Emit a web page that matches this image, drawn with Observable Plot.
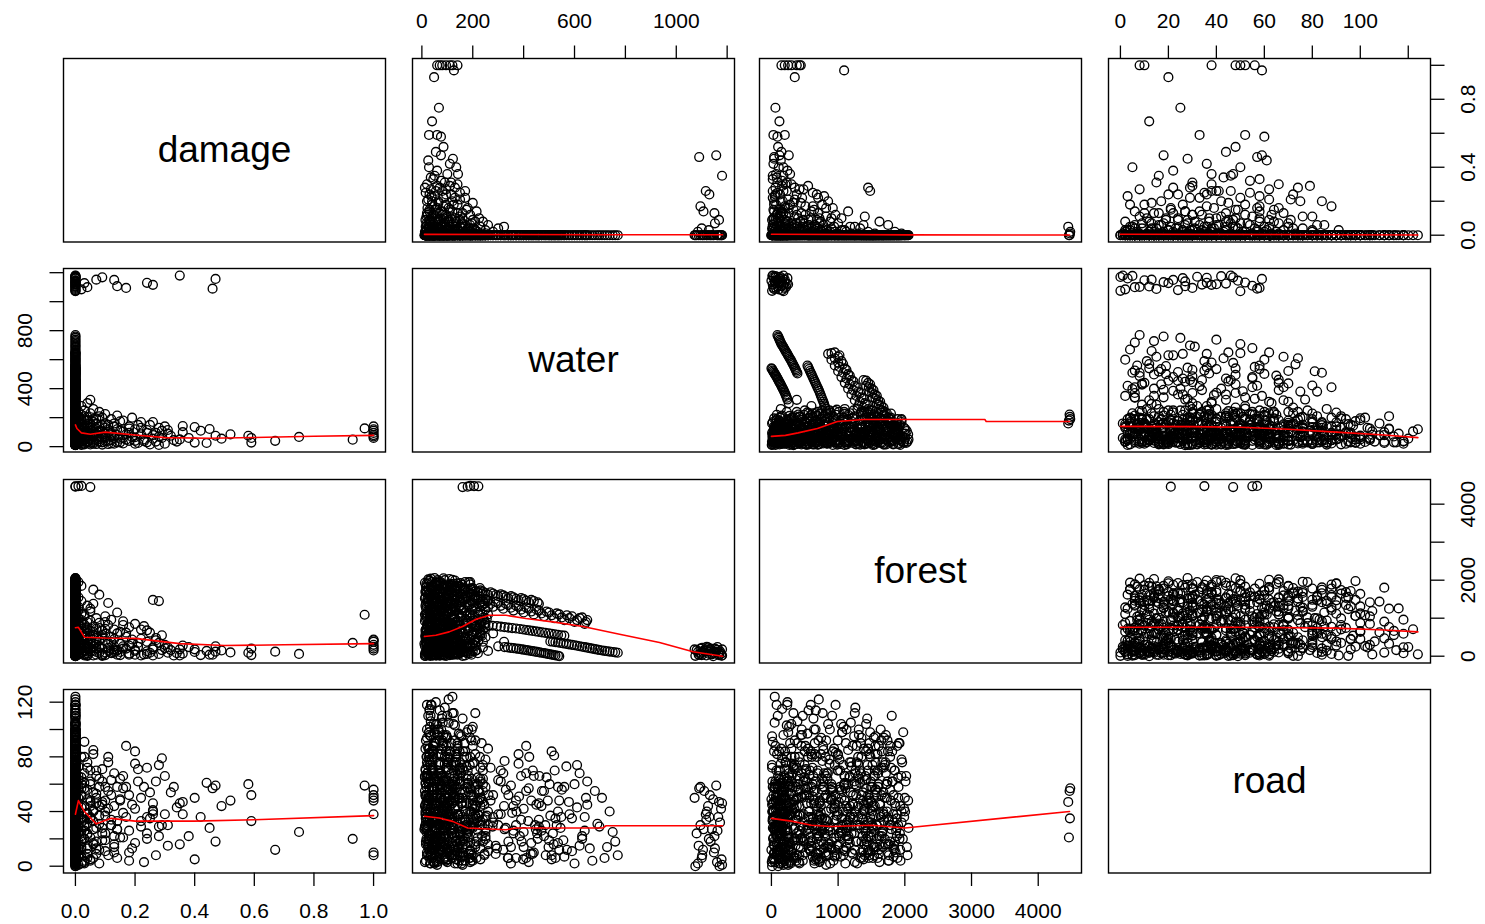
<!DOCTYPE html>
<html><head><meta charset="utf-8">
<script src="https://cdn.jsdelivr.net/npm/d3@7"></script>
<script src="https://cdn.jsdelivr.net/npm/@observablehq/plot@0.6"></script>
<style>
body{margin:0;background:#fff;}
#chart{position:relative;width:1485px;height:924px;overflow:hidden;background:#fff;}
</style></head><body><div id="chart"></div>
<script>
// ---------------- data: [damage, water, forest, road] ----------------
const riverRows = [
[0.46,1090,40,57],[0.47,1157,120,59],[0.35,1180,20,46],[0.26,1116,180,38],[0.24,1130,60,36],
[0.14,1107,150,27],[0.13,1150,90,22],[0.07,1152,200,13],[0.04,1100,30,6],[0.02,1085,110,2],
[0,1075,10,0],[0,1095,70,30],[0,1110,140,55],[0,1125,230,44],[0,1140,50,27],[0,1160,170,3],
[0,1170,100,0],[0,1178,15,5],[0,1120,250,40],[0,1135,200,18],[0,1165,60,36],[0,1080,160,24],
[0,1145,0,49],[0,1105,90,12],[0,1172,130,32],
[0,1072,180,50],[0,1088,40,15],[0,1102,220,8],[0,1118,20,34],[0,1132,160,52],[0,1148,80,10],
[0,1162,240,26],[0,1176,60,42],[0,1180,180,1],[0.03,1128,120,20],[0.09,1168,30,47],[0.17,1095,200,58]
];
const forestEdgeRows = [
[0,180,4460,21],[0.01,205,4475,35],[0.05,160,4450,47],[0,222,4470,55],[0.02,190,4480,57]
];
const totalLossRows = [
[1,140,300,10],[1,120,250,8],[1,95,420,38],[1,80,150,48],[1,60,380,50],[1,110,200,52],
[0.97,126,1090,59],[0.93,48,350,20],[1,70,440,56]
];
const lossRows = [
[0.75,67,60,25],[0.67,40,120,12],[0.59,28,30,52],[0.59,60,200,33],[0.58,75,90,60],[0.49,55,150,44],
[0.47,75,260,18],[0.45,122,40,28],[0.40,28,180,50],[0.40,135,110,5],[0.36,142,280,38],[0.36,100,70,47],
[0.33,45,20,58],[0.31,90,230,15],[0.30,20,300,66],[0.29,110,160,79],[0.29,60,550,30],[0.28,130,1450,22],
[0.27,35,420,8],[0.26,80,1480,41],[0.25,15,620,35],[0.25,150,90,54],[0.24,95,380,72],[0.23,50,50,3],
[0.22,170,700,29],[0.21,25,250,62],[0.20,120,850,17],[0.20,65,140,75],[0.19,200,330,45],[0.18,40,760,26],
[0.18,140,40,10],[0.17,85,510,88],[0.16,22,200,39],[0.16,180,920,57],[0.15,55,30,21],[0.15,110,640,48],
[0.14,215,160,6],[0.14,30,1150,33],[0.13,70,450,68],[0.13,160,260,14],[0.12,45,960,52],[0.12,190,80,30],
[0.11,100,1400,42],[0.11,18,350,80],[0.10,130,590,11],[0.10,225,720,37],[0.10,60,100,58],[0.10,88,1050,24],
[0.09,14,10,45],[0.09,150,480,19],[0.08,240,230,64],[0.08,35,880,2],[0.08,105,1620,31],[0.07,62,300,53],
[0.07,195,40,9],[0.07,125,1000,70],[0.06,20,560,27],[0.06,260,140,40],[0.06,80,780,85],[0.06,170,1750,16],
[0.05,48,190,35],[0.05,230,660,5],[0.05,112,1250,60],[0.05,323,380,44],[0.04,28,70,23],[0.04,140,900,13],
[0.04,205,420,76],[0.04,70,1330,49],[0.04,300,260,38],[0.03,16,640,4],[0.03,95,160,29],[0.03,180,1100,61],
[0.03,250,500,20],[0.03,55,20,91],[0.03,120,740,34],[0.02,40,1450,52],[0.02,160,330,7],[0.02,85,950,43],
[0.02,220,80,26],[0.02,12,270,65],[0.02,135,1850,18],[0.02,280,600,32],[0.01,30,120,11],[0.01,100,530,46],
[0.01,175,1200,73],[0.01,60,820,1],[0.01,240,380,55],[0.01,145,60,37],[0.01,20,1000,28],[0.01,210,1550,14],
[0.01,75,250,59],[0.01,115,700,24],[0.01,190,1950,40]
];
const lossRows2 = [
[0.01,25,40,18],[0.01,55,310,42],[0.01,90,620,7],[0.01,140,180,63],[0.01,200,870,29],
[0.02,15,450,51],[0.02,70,90,12],[0.02,110,760,35],[0.02,175,230,80],[0.02,35,1120,22],
[0.03,45,280,3],[0.03,130,50,57],[0.03,85,520,26],[0.03,210,140,44],[0.03,20,830,68],
[0.04,60,600,15],[0.04,100,350,39],[0.04,160,10,72],[0.04,38,210,31],[0.04,185,690,9],
[0.05,25,130,48],[0.05,75,940,21],[0.05,150,300,62],[0.05,95,470,4],
[0.06,42,20,33],[0.06,120,560,54],[0.06,190,260,17],[0.06,65,1380,41],
[0.07,18,380,66],[0.07,88,110,28],[0.07,155,720,46],
[0.08,52,250,12],[0.08,135,90,58],[0.08,210,430,37],
[0.09,30,680,24],[0.09,105,200,71],
[0.10,72,30,40],[0.10,160,400,19],[0.11,40,150,55],[0.11,118,820,8],
[0.12,22,90,30],[0.12,95,510,63],[0.13,140,180,44],[0.13,58,700,16],
[0.14,80,40,27],[0.15,30,330,49],[0.15,175,110,64],[0.16,105,260,21],[0.17,48,620,36],
[0.18,125,70,52],[0.19,65,440,13],[0.20,20,170,42],[0.21,150,350,71],[0.22,85,20,33],
[0.23,38,790,58],[0.24,115,130,24],[0.26,55,230,46],[0.27,95,480,62],[0.28,12,60,29],[0.30,140,210,38],
[0.32,75,160,54],[0.34,35,80,43],[0.38,60,240,22],[0.42,110,30,36],[0.44,25,140,61],[0.52,85,100,48]
];
const lossRows3 = [
[0.01,45,400,50],[0.01,120,980,8],[0.01,35,1300,66],[0.02,60,180,38],[0.02,150,620,60],[0.02,25,880,14],
[0.03,100,300,80],[0.03,70,1050,30],[0.03,140,420,2],[0.04,50,760,56],[0.04,180,120,24],[0.05,15,520,70],
[0.05,130,1180,36],[0.06,90,340,6],[0.06,30,650,82],[0.07,160,210,50],[0.07,45,480,18],[0.08,110,740,44],
[0.09,65,60,62],[0.09,200,560,28],[0.10,40,900,48],[0.11,150,220,76],[0.12,80,380,34],[0.13,20,140,10],
[0.14,120,600,58],[0.16,60,820,66],[0.18,95,280,4],[0.20,40,40,84],[0.22,130,460,50],[0.24,30,680,20],
[0.26,170,20,40],[0.28,70,350,74],[0.31,115,90,30],[0.35,50,180,16]
];
const zeroRows = [
[0,12,5,3],[0,45,60,88],[0,90,30,41],[0,150,80,17],[0,25,95,110],[0,70,15,62],[0,120,50,124],[0,180,70,29],[0,35,40,9],
[0,15,120,52],[0,60,180,96],[0,105,140,23],[0,165,110,70],[0,30,160,115],[0,85,190,5],[0,200,130,44],[0,50,105,33],
[0,20,210,76],[0,75,260,12],[0,130,230,103],[0,190,290,38],[0,40,280,58],[0,110,205,84],[0,160,250,1],[0,55,240,120],
[0,10,330,27],[0,65,310,68],[0,140,370,49],[0,210,350,92],[0,35,390,106],[0,95,360,15],[0,175,320,58],[0,50,380,8],
[0,22,420,44],[0,80,470,110],[0,125,440,30],[0,220,490,65],[0,45,450,88],[0,100,410,3],[0,185,460,21],[0,60,495,52],
[0,14,520,71],[0,70,580,36],[0,145,540,97],[0,230,560,13],[0,38,590,118],[0,115,510,57],[0,195,570,40],[0,90,550,80],
[0,28,610,19],[0,85,670,62],[0,160,630,108],[0,240,690,34],[0,50,650,90],[0,120,680,6],[0,205,620,51],[0,65,640,100],
[0,18,720,47],[0,75,780,16],[0,135,740,82],[0,250,760,27],[0,42,790,68],[0,105,710,122],[0,210,770,58],[0,170,730,4],
[0,24,830,33],[0,90,870,75],[0,150,810,10],[0,235,890,49],[0,55,850,104],[0,115,880,26],[0,195,840,64],[0,70,820,92],
[0,12,920,55],[0,65,960,12],[0,140,940,86],[0,255,980,37],[0,38,990,70],[0,100,910,110],[0,220,970,21],[0,175,950,46],
[0,30,1020,78],[0,85,1070,40],[0,160,1040,7],[0,240,1090,60],[0,50,1060,98],[0,120,1010,24],[0,200,1080,102],[0,70,1050,50],
[0,16,1130,32],[0,75,1170,66],[0,145,1120,14],[0,230,1180,44],[0,45,1150,85],[0,105,1190,105],[0,190,1140,28],[0,60,1110,57],
[0,25,1220,9],[0,90,1270,52],[0,155,1240,95],[0,260,1290,30],[0,40,1260,70],[0,120,1210,38],[0,210,1250,112],[0,65,1280,18],
[0,14,1330,61],[0,70,1370,22],[0,135,1350,80],[0,245,1390,45],[0,50,1310,100],[0,100,1380,5],[0,180,1320,64],[0,30,1360,35],
[0,20,1430,48],[0,85,1470,90],[0,150,1410,25],[0,230,1490,62],[0,45,1450,12],[0,115,1440,74],[0,200,1480,36],[0,60,1420,104],
[0,12,1520,28],[0,70,1570,56],[0,140,1540,8],[0,210,1590,82],[0,35,1560,95],[0,100,1510,40],[0,170,1580,20],[0,55,1550,66],
[0,25,1630,45],[0,80,1670,14],[0,150,1650,72],[0,220,1690,33],[0,45,1610,88],[0,120,1680,54],[0,190,1620,3],[0,60,1660,24],
[0,15,1720,60],[0,70,1770,30],[0,130,1740,92],[0,200,1790,48],[0,40,1750,10],[0,105,1710,76],[0,165,1780,18],[0,55,1730,40],
[0,20,1830,52],[0,85,1870,26],[0,140,1850,70],[0,190,1890,6],[0,45,1810,84],[0,110,1880,38],[0,60,1840,15],
[0,12,1930,44],[0,65,1970,20],[0,120,2010,62],[0,170,1950,32],[0,35,2040,8],[0,90,2000,50],[0,140,1920,90],[0,50,2055,28]
];
const zeroRows2 = [
[0,18,25,20],[0,40,130,45],[0,65,75,70],[0,95,10,95],[0,130,100,8],[0,160,145,36],[0,28,55,58],[0,110,85,82],[0,50,140,2],
[0,22,170,16],[0,48,220,40],[0,80,195,66],[0,115,280,90],[0,145,165,28],[0,185,230,54],[0,32,265,102],[0,70,155,5],[0,95,245,31],
[0,16,345,42],[0,42,410,14],[0,75,300,86],[0,108,395,60],[0,150,430,23],[0,200,305,75],[0,30,440,96],[0,60,365,34],[0,125,330,112],
[0,20,470,8],[0,52,530,62],[0,88,475,28],[0,118,595,46],[0,170,500,84],[0,215,585,18],[0,35,555,40],[0,65,455,100],[0,140,570,67],
[0,14,690,30],[0,45,605,80],[0,78,735,12],[0,112,650,55],[0,150,700,38],[0,190,745,94],[0,230,615,72],[0,30,665,114],[0,60,720,3],
[0,22,775,88],[0,55,895,42],[0,85,805,22],[0,125,760,64],[0,165,855,8],[0,215,800,35],[0,250,870,78],[0,38,860,16],[0,100,830,50],
[0,18,1040,25],[0,48,905,58],[0,80,995,92],[0,110,945,34],[0,150,1030,70],[0,195,930,4],[0,240,1010,47],[0,30,965,83],[0,130,985,15],
[0,12,1095,66],[0,40,1160,20],[0,68,1060,98],[0,98,1125,44],[0,135,1195,76],[0,175,1075,30],[0,220,1150,60],[0,260,1100,11],[0,55,1185,36],
[0,20,1300,80],[0,50,1215,46],[0,82,1345,10],[0,115,1255,68],[0,150,1320,28],[0,195,1225,52],[0,235,1340,90],[0,32,1240,24],[0,130,1285,2],
[0,16,1395,16],[0,45,1495,58],[0,78,1360,38],[0,110,1420,84],[0,148,1465,50],[0,190,1375,12],[0,240,1445,70],[0,28,1480,98],[0,95,1405,30],
[0,22,1515,74],[0,52,1640,36],[0,88,1530,14],[0,120,1605,60],[0,160,1525,44],[0,195,1645,92],[0,30,1590,6],[0,66,1560,82],[0,105,1620,22],
[0,14,1685,38],[0,42,1795,72],[0,75,1700,50],[0,110,1760,8],[0,150,1715,96],[0,185,1670,26],[0,28,1765,16],[0,60,1740,62],[0,95,1655,84],
[0,18,1905,58],[0,40,1815,34],[0,72,1960,76],[0,100,1845,12],[0,130,1990,42],[0,160,1880,22],[0,25,2020,66],[0,55,1935,4],[0,85,2050,48],[0,115,1900,30]
];
const zeroRows3 = [
[0,33,8,74],[0,58,22,28],[0,82,48,105],[0,104,66,50],[0,126,92,14],[0,148,114,84],[0,172,136,40],[0,20,78,118],[0,44,118,6],[0,96,132,63],
[0,26,146,86],[0,52,168,22],[0,78,176,58],[0,102,198,10],[0,124,214,76],[0,150,226,34],[0,176,252,98],[0,212,270,60],[0,36,236,118],[0,64,276,46],
[0,18,286,36],[0,46,298,104],[0,72,318,18],[0,98,336,72],[0,122,352,48],[0,146,372,4],[0,168,388,90],[0,222,402,56],[0,28,414,80],[0,86,416,26],
[0,32,426,64],[0,56,438,20],[0,84,458,96],[0,106,482,38],[0,132,498,74],[0,162,512,10],[0,190,526,52],[0,236,538,30],[0,14,548,86],[0,70,556,114],
[0,24,566,50],[0,48,578,12],[0,74,596,82],[0,98,612,30],[0,128,628,66],[0,156,646,2],[0,182,662,100],[0,214,678,44],[0,40,692,70],[0,92,698,22],
[0,16,706,92],[0,42,722,36],[0,68,738,60],[0,94,752,6],[0,120,768,112],[0,146,786,50],[0,176,798,24],[0,228,812,80],[0,30,826,40],[0,84,838,14],
[0,22,846,68],[0,52,858,28],[0,76,876,100],[0,104,892,56],[0,132,906,18],[0,162,922,84],[0,206,936,42],[0,246,948,8],[0,36,962,118],[0,90,976,34],
[0,14,986,40],[0,44,998,82],[0,70,1012,16],[0,96,1028,58],[0,124,1046,104],[0,156,1062,26],[0,188,1078,74],[0,226,1094,48],[0,32,1108,2],[0,82,1116,90],
[0,20,1126,100],[0,48,1138,40],[0,74,1156,22],[0,100,1172,76],[0,128,1188,54],[0,160,1202,10],[0,200,1216,88],[0,250,1232,36],[0,36,1246,62],[0,90,1258,116],
[0,16,1266,18],[0,42,1278,76],[0,68,1296,44],[0,96,1312,96],[0,122,1326,30],[0,154,1342,68],[0,186,1356,6],[0,226,1372,54],[0,30,1386,86],[0,80,1398,40],
[0,24,1406,66],[0,52,1418,26],[0,78,1436,108],[0,104,1452,46],[0,132,1468,8],[0,166,1484,80],[0,206,1498,32],[0,250,1512,58],[0,38,1524,16],[0,92,1536,94],
[0,14,1546,52],[0,46,1558,88],[0,72,1576,30],[0,98,1592,70],[0,126,1608,12],[0,158,1624,46],[0,196,1638,100],[0,236,1652,22],[0,30,1664,76],[0,84,1676,40],
[0,20,1686,94],[0,50,1698,20],[0,76,1716,68],[0,102,1732,36],[0,130,1748,84],[0,160,1764,4],[0,192,1778,56],[0,228,1792,30],[0,34,1804,110],[0,88,1816,62],
[0,16,1826,38],[0,44,1844,70],[0,70,1862,10],[0,96,1884,88],[0,124,1902,50],[0,152,1926,24],[0,184,1948,66],[0,28,1976,98],[0,62,2004,40],[0,108,2030,14]
];
const streakRows = [
[0,540,0,12],[0,525,20,35],[0,510,40,5],[0,495,60,48],[0,480,80,22],[0,462,100,66],[0,445,120,30],[0,428,140,9],
[0,410,160,55],[0,392,180,18],[0,372,200,40],[0,350,220,2],[0,325,240,27],
[0,770,90,8],[0,750,110,25],[0,728,130,14],[0,708,150,50],[0,690,175,31],[0,670,200,4],[0,650,225,62],[0,630,250,20],
[0,610,275,43],[0,590,300,11],[0,568,325,73],[0,545,350,28],[0,525,370,6],[0,505,390,37],
[0,560,540,58],[0,535,565,17],[0,510,590,84],[0,485,615,30],[0,460,640,46],[0,435,665,9],[0,410,690,68],[0,385,715,22],
[0,355,740,39],[0,325,765,77],[0,295,790,13],[0,262,815,52],[0,230,840,33],
[0,640,850,26],[0,650,950,45],[0,620,1000,15],[0,600,900,60],[0,590,1050,35],[0,560,950,7],[0,540,1100,48],[0,520,1000,81],
[0,500,1150,19],[0,480,1050,55],[0,460,1200,29],[0,440,1100,66],[0,420,1250,3],[0,400,1150,42],[0,380,1300,75],[0,360,1200,24],
[0,340,1350,52],[0,320,1250,12],[0,300,1400,63],[0,280,1300,36],[0,260,1450,86],[0,240,1350,18],[0,220,1500,47],[0,200,1400,8],
[0,180,1550,70],[0,160,1450,33],[0,140,1600,58],[0,120,1500,21],[0,100,1350,94],[0,80,1250,40],
[0,460,1380,34],[0,440,1450,10],[0,420,1420,57],[0,400,1500,25],[0,380,1470,82],[0,360,1550,44],[0,340,1520,6],[0,320,1600,68],
[0,300,1580,30],[0,280,1650,52],[0,260,1620,16],[0,240,1700,74],[0,220,1680,38],[0,200,1750,4],[0,180,1730,60],[0,160,1800,27],
[0,140,1780,88],[0,120,1850,46],[0,100,1830,13],[0,80,1900,65],[0,60,1880,35],[0,40,1950,78],[0,25,1920,20]
];
const streakRows2 = [
[0,535,12,40],[0,518,32,16],[0,502,52,60],[0,487,72,8],[0,470,92,44],[0,453,112,24],[0,436,132,70],[0,418,152,33],
[0,400,172,14],[0,382,192,51],[0,360,212,26],[0,338,232,6],
[0,760,102,18],[0,738,122,40],[0,718,142,6],[0,698,164,29],[0,680,188,55],[0,660,212,13],[0,640,238,36],[0,620,262,68],
[0,600,288,2],[0,578,312,47],[0,556,338,19],[0,535,360,58],[0,515,380,24],
[0,548,552,36],[0,522,578,70],[0,498,602,14],[0,472,628,55],[0,448,652,27],[0,422,678,80],[0,398,702,5],[0,370,728,48],
[0,340,752,18],[0,310,778,62],[0,278,802,29],[0,246,828,9],
[0,645,900,50],[0,630,1020,22],[0,610,950,74],[0,580,1000,38],[0,570,1075,12],[0,550,1020,56],[0,530,1125,30],[0,510,1075,8],
[0,490,1175,65],[0,470,1125,26],[0,450,1230,45],[0,430,1175,17],[0,410,1280,88],[0,390,1225,34],[0,370,1330,6],[0,350,1275,59],
[0,330,1380,28],[0,310,1325,70],[0,290,1430,15],[0,270,1375,48],[0,250,1480,22],[0,230,1425,64],[0,210,1530,37],[0,190,1475,11],
[0,170,1580,54],[0,150,1525,29],[0,130,1560,76],[0,110,1430,18],
[0,455,1420,20],[0,430,1480,48],[0,410,1460,6],[0,390,1530,66],[0,370,1510,30],[0,350,1580,14],[0,330,1560,56],[0,310,1630,38],
[0,290,1610,9],[0,270,1680,72],[0,250,1660,25],[0,230,1730,50],[0,210,1710,16],[0,190,1780,80],[0,170,1760,34],[0,150,1830,7],
[0,130,1810,62],[0,110,1880,28],[0,90,1860,44],[0,70,1930,12],[0,50,1910,90],[0,30,1990,36]
];

// variables, ranges, ticks
const vars = ["damage", "water", "forest", "road"];
const damageRange = [0, 1], waterRange = [10, 1182], forestRange = [0, 4470], roadRange = [0, 124.3];
const damageTicks = [0, 0.2, 0.4, 0.6, 0.8, 1.0];
const waterTicks = [0, 200, 400, 600, 800, 1000, 1200];
const forestTicks = [0, 1000, 2000, 3000, 4000];
const roadTicks = [0, 20, 40, 60, 80, 100, 120];
const damageRightLabels = [0, 0.4, 0.8], damageBottomLabels = [0, 0.2, 0.4, 0.6, 0.8, 1.0];
const waterTopLabels = [0, 200, 600, 1000], waterLeftLabels = [0, 400, 800];
const forestBottomLabels = [0, 1000, 2000, 3000, 4000], forestRightLabels = [0, 2000, 4000];
const roadTopLabels = [0, 20, 40, 60, 80, 100], roadLeftLabels = [0, 40, 80, 120];

// smoother curves: [x value, y value]
const sDW = [[10,0.005],[300,0.004],[770,0.003],[1080,0.003],[1182,0.003]];
const sDF = [[0,0.006],[1000,0.004],[2050,0.002],[4470,0.001]];
const sDR = [[0,0.006],[60,0.004],[124,0.001]];
const sWD = [[0,150],[0.005,125],[0.02,95],[0.05,85],[0.1,100],[0.2,80],[0.3,62],[0.45,58],[0.6,63],[0.8,72],[1,78]];
const sWF = [[0,71],[210,78],[400,95],[690,125],[990,173],[1380,187],[3200,187],[3220,174],[4470,174]];
const sWR = [[0,140],[30,138],[50,134],[70,120],[90,100],[110,80],[124,62]];
const sFD = [[0,750],[0.01,760],[0.03,500],[0.1,480],[0.2,470],[0.35,330],[0.5,280],[0.7,300],[1,330]];
const sFW = [[10,517],[55,551],[107,640],[160,780],[213,971],[265,1076],[331,1076],[409,990],[514,903],[633,780],[777,577],[934,360],[1066,115],[1182,0]];
const sFR = [[0,760],[50,760],[90,740],[110,690],[124,640]];
const sRD = [[0,38],[0.01,48],[0.03,40],[0.07,31],[0.12,35],[0.2,33],[0.4,33],[0.6,34],[1,37]];
const sRW = [[10,36.5],[68,35.3],[121,32.8],[180,27.9],[331,26.7],[370,27.9],[711,27.9],[724,29.6],[1182,29.6]];
const sRF = [[0,35],[300,33],[600,30],[900,29],[1500,30],[2000,28],[4470,40]];

// ---------------- build ----------------
const rows = [riverRows, forestEdgeRows, totalLossRows, lossRows, lossRows2, lossRows3, zeroRows, zeroRows2, zeroRows3, streakRows, streakRows2].flat()
  .map(([damage, water, forest, road]) => ({damage, water, forest, road}));
const ranges = {damage: damageRange, water: waterRange, forest: forestRange, road: roadRange};
const ticks = {damage: damageTicks, water: waterTicks, forest: forestTicks, road: roadTicks};
const fmt = {damage: d3.format(".1f"), water: d3.format("d"), forest: d3.format("d"), road: d3.format("d")};
const labelSets = {
  top: {water: waterTopLabels, road: roadTopLabels},
  bottom: {damage: damageBottomLabels, forest: forestBottomLabels},
  left: {water: waterLeftLabels, road: roadLeftLabels},
  right: {damage: damageRightLabels, forest: forestRightLabels}
};
const smooth = {
  "0,1": sDW, "0,2": sDF, "0,3": sDR,
  "1,0": sWD, "1,2": sWF, "1,3": sWR,
  "2,0": sFD, "2,1": sFW, "2,3": sFR,
  "3,0": sRD, "3,1": sRW, "3,2": sRF
};
function ext(v) { const [a, b] = ranges[v]; const p = (b - a) * 0.04; return [a - p, b + p]; }
function labeler(side, v) { const s = labelSets[side][v]; return d => s.includes(d) ? fmt[v](d) : ""; }

const W = 322, H = 183.5, M = 60;
const colX = [63, 411.5, 759, 1107.5], rowY = [57.5, 268, 478.5, 689];
const FS = 21, TS = 13.5;
const chart = document.getElementById("chart");

for (let r = 0; r < 4; r++) {
  for (let c = 0; c < 4; c++) {
    const xv = vars[c], yv = vars[r];
    const marks = [];
    if (r === c) {
      marks.push(Plot.text([xv], {frameAnchor: "middle", text: d => d, fontSize: 37, fill: "black"}));
    } else {
      marks.push(Plot.dot(rows, {x: xv, y: yv, r: 4.4, stroke: "black", strokeWidth: 1.35, fill: "none"}));
      marks.push(Plot.line(smooth[r + "," + c], {x: d => d[0], y: d => d[1], stroke: "red", strokeWidth: 1.6}));
    }
    if (r === 0 && c % 2 === 1)
      marks.push(Plot.axisX({anchor: "top", ticks: ticks[xv], tickFormat: labeler("top", xv), tickSize: TS, tickPadding: 17, fontSize: FS, strokeWidth: 1.3, label: null}));
    if (r === 3 && c % 2 === 0)
      marks.push(Plot.axisX({anchor: "bottom", ticks: ticks[xv], tickFormat: labeler("bottom", xv), tickSize: TS, tickPadding: 17, fontSize: FS, strokeWidth: 1.3, label: null}));
    if (c === 0 && r % 2 === 1)
      marks.push(Plot.axisY({anchor: "left", ticks: ticks[yv], tickFormat: labeler("left", yv), tickSize: TS, tickPadding: 18, tickRotate: -90, fontSize: FS, strokeWidth: 1.3, label: null}));
    if (c === 3 && r % 2 === 0)
      marks.push(Plot.axisY({anchor: "right", ticks: ticks[yv], tickFormat: labeler("right", yv), tickSize: TS, tickPadding: 16.5, tickRotate: -90, lineAnchor: "top", fontSize: FS, strokeWidth: 1.3, label: null}));
    marks.push(Plot.frame({stroke: "black", strokeWidth: 1.4}));
    const svg = Plot.plot({
      width: W + 2 * M, height: H + 2 * M, margin: M,
      x: {domain: ext(xv), axis: null},
      y: {domain: ext(yv), axis: null},
      style: {position: "absolute", left: (colX[c] - M) + "px", top: (rowY[r] - M) + "px", overflow: "visible",
              background: "transparent", fontFamily: "'Liberation Sans', Arial, sans-serif", fontSize: FS + "px", color: "black", maxWidth: "none"},
      marks
    });
    chart.appendChild(svg);
  }
}
</script>
</body></html>
